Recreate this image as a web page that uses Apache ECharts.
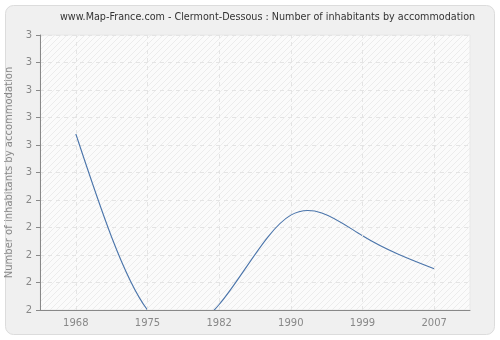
<!DOCTYPE html>
<html><head><meta charset="utf-8">
<script src="https://cdn.jsdelivr.net/npm/echarts@6/dist/echarts.min.js"></script>
<style>html,body{margin:0;padding:0;background:#fff}#c{width:500px;height:340px}</style>
</head><body><div id="c"></div>
<script>
const titleText = 'www.Map-France.com - Clermont-Dessous : Number of inhabitants by accommodation';
const yName = 'Number of inhabitants by accommodation';
const years = ['1968','1975','1982','1990','1999','2007'];
const values = [2.64, 2.0, 2.02, 2.345, 2.27, 2.15];
const yMin = 2, yMax = 3, yStep = 0.1;

const pc = document.createElement('canvas');
pc.width = 6; pc.height = 6;
const g = pc.getContext('2d');
g.fillStyle = '#fbfbfb'; g.fillRect(0,0,6,6);
g.strokeStyle = '#ececec'; g.lineWidth = 1;
g.beginPath(); g.moveTo(0,6); g.lineTo(6,0); g.stroke();
g.beginPath(); g.moveTo(-1,1); g.lineTo(1,-1); g.stroke();
g.beginPath(); g.moveTo(5,7); g.lineTo(7,5); g.stroke();

// natural cubic spline path through pixel points obtained from the axes
function splinePath(pts) {
  const n = pts.length;
  const h = [];
  for (let i = 0; i < n - 1; i++) h.push(pts[i+1][0] - pts[i][0]);
  const M = new Array(n).fill(0);
  if (n > 2) {
    const a = [], b = [], c = [], d = [];
    for (let i = 1; i < n - 1; i++) {
      a.push(h[i-1]); b.push(2 * (h[i-1] + h[i])); c.push(h[i]);
      d.push(6 * ((pts[i+1][1] - pts[i][1]) / h[i] - (pts[i][1] - pts[i-1][1]) / h[i-1]));
    }
    const m = b.length;
    for (let i = 1; i < m; i++) {
      const w = a[i] / b[i-1];
      b[i] -= w * c[i-1]; d[i] -= w * d[i-1];
    }
    const sol = new Array(m);
    sol[m-1] = d[m-1] / b[m-1];
    for (let i = m - 2; i >= 0; i--) sol[i] = (d[i] - c[i] * sol[i+1]) / b[i];
    for (let i = 0; i < m; i++) M[i+1] = sol[i];
  }
  let p = 'M' + pts[0][0] + ' ' + pts[0][1];
  for (let i = 0; i < n - 1; i++) {
    const hi = h[i];
    const sl = (pts[i+1][1] - pts[i][1]) / hi;
    const s0 = sl - hi * (2 * M[i] + M[i+1]) / 6;
    const s1 = sl + hi * (M[i] + 2 * M[i+1]) / 6;
    p += ' C' + (pts[i][0] + hi/3) + ' ' + (pts[i][1] + s0*hi/3) + ' ' +
         (pts[i+1][0] - hi/3) + ' ' + (pts[i+1][1] - s1*hi/3) + ' ' +
         pts[i+1][0] + ' ' + pts[i+1][1];
  }
  return p;
}

const chart = echarts.init(document.getElementById('c'), null, {renderer:'canvas'});
chart.setOption({
  backgroundColor: '#ffffff',
  animation: false,
  graphic: [{
    type: 'rect', left: 5, top: 5, z: -10,
    shape: {width: 489, height: 329, r: 8},
    style: {fill: '#f0f0f0', stroke: '#dcdcdc', lineWidth: 1}
  }],
  title: {
    text: titleText, left: 60, top: 12, padding: 0,
    textStyle: {fontFamily: 'DejaVu Sans Condensed', fontSize: 10.7, fontWeight: 'normal', color: '#333'}
  },
  grid: {
    left: 40, right: 30, top: 35, bottom: 30, show: true, outerBoundsMode: 'none', containLabel: false,
    backgroundColor: {image: pc, repeat: 'repeat'}, borderColor: '#e8e8e8', borderWidth: 1
  },
  xAxis: {
    type: 'category', data: years, boundaryGap: true,
    axisLine: {lineStyle: {color: '#888', width: 1}},
    axisTick: {alignWithLabel: true, length: 4, lineStyle: {color: '#888'}},
    axisLabel: {color: '#888', fontFamily: 'DejaVu Sans', fontSize: 10, margin: 8},
    splitLine: {show: false}
  },
  yAxis: {
    type: 'value', min: yMin, max: yMax, interval: yStep,
    name: yName, nameLocation: 'middle', nameGap: 13,
    nameTextStyle: {color: '#888', fontFamily: 'DejaVu Sans', fontSize: 10},
    axisLine: {show: true, lineStyle: {color: '#888'}},
    axisTick: {show: true, length: 4, lineStyle: {color: '#888'}},
    axisLabel: {color: '#888', fontFamily: 'DejaVu Sans', fontSize: 10, margin: 8,
      formatter: v => String(Math.round(v))},
    splitLine: {lineStyle: {color: '#e4e4e4', type: [4,4]}}
  },
  series: [{
    type: 'custom', clip: true,
    data: values.map((v, i) => [i, v]),
    encode: {x: 0, y: 1},
    renderItem: function (params, api) {
      if (params.dataIndex !== 0) return null;
      const pts = values.map((v, i) => api.coord([i, v]));
      const cs = params.coordSys;
      return {
        type: 'path',
        shape: {pathData: splinePath(pts)},
        style: {stroke: '#4a74aa', lineWidth: 1.1, fill: null},
        clipPath: {type: 'rect', shape: {x: cs.x, y: cs.y, width: cs.width, height: cs.height}}
      };
    },
    markLine: {
      silent: true, symbol: 'none', label: {show: false},
      lineStyle: {color: '#e4e4e4', type: [4,4], width: 1},
      data: years.map(y => ({xAxis: y}))
    }
  }]
});
</script></body></html>
